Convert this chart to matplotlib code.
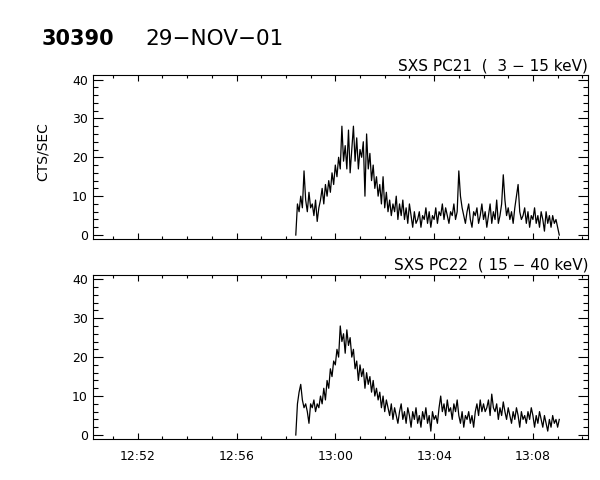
import numpy as np
import matplotlib
matplotlib.use('Agg')
import matplotlib.pyplot as plt
from matplotlib.ticker import MultipleLocator, FuncFormatter

plt.rcParams['font.family'] = ['DejaVu Sans']

# Light curves, 4 s bins starting 12:58:24 (time in minutes after 12:00)
t_start = 58 + 24 / 60.0
bin_min = 4 / 60.0

pc21 = [0,
        8, 6, 10, 7, 16.5, 9, 6, 11, 7,
        8, 5, 9, 3.5, 7, 9, 12, 8, 13, 10,
        14, 11, 16, 13, 18, 15, 20, 17, 28, 19,
        23, 17, 27, 16, 22, 28, 19, 25, 17, 22,
        20, 24, 10, 26, 17, 21, 14, 18, 12, 15,
        10, 13, 8, 15, 7, 11, 6, 9, 5, 8,
        6, 10, 4, 8, 5, 9, 4, 7, 3, 8,
        5, 2, 6, 3, 4, 6, 2, 5, 4, 7,
        3, 6, 2, 5, 4, 7, 3, 6, 5, 8,
        4, 7, 5, 3, 6, 5, 8, 4, 6, 16.5,
        10, 7, 5, 3, 6, 8, 4, 2, 6, 5,
        7, 3, 5, 8, 4, 6, 2, 5, 8, 3,
        6, 4, 9, 3, 5, 8, 15.5, 9, 5, 7,
        4, 6, 3, 7, 10, 13, 6, 4, 5, 7,
        3, 6, 2, 5, 4, 7, 3, 5, 2, 6,
        4, 1, 6, 3, 5, 2, 5, 3, 4, 2,
        0]

pc22 = [0,
        8, 11, 13, 9, 7, 8, 6, 3, 8,
        7, 9, 6, 8, 7, 10, 8, 12, 9, 14,
        12, 17, 15, 19, 18, 22, 20, 28, 24, 26,
        21, 27, 23, 25, 20, 22, 17, 19, 14, 18,
        15, 17, 12, 16, 13, 15, 11, 14, 10, 12,
        9, 11, 7, 10, 6, 9, 7, 5, 8, 4,
        7, 5, 3, 6, 8, 4, 6, 3, 7, 5,
        2, 6, 4, 7, 3, 5, 2, 6, 4, 7,
        3, 5, 1, 6, 4, 5, 3, 7, 10, 6,
        8, 5, 9, 6, 7, 4, 8, 6, 9, 5,
        3, 6, 2, 5, 4, 6, 3, 5, 2, 6,
        8, 5, 9, 6, 8, 6, 7, 9, 5, 10.5,
        7, 6, 8, 4, 7, 5, 8.5, 6, 4, 7,
        5, 3, 6, 4, 7, 5, 2, 6, 4, 5,
        3, 6, 4, 7, 5, 2, 5, 3, 6, 4,
        2, 5, 3, 1, 4, 2, 5, 3, 4, 2,
        4]

panel_titles = ['SXS PC21  (  3 \u2212 15 keV)', 'SXS PC22  ( 15 \u2212 40 keV)']


def hhmm(x, pos):
    h = 12 + int(x // 60)
    m = int(round(x % 60))
    return '%d:%02d' % (h, m)


fig = plt.figure(figsize=(6, 4.8), dpi=100)
fig.text(0.069, 0.919, '30390', fontsize=15, fontweight='semibold', va='center', ha='left')
fig.text(0.243, 0.919, '29\u2212NOV\u221201', fontsize=15.5, va='center', ha='left')

boxes = [[0.155, 0.502, 0.825, 0.342], [0.155, 0.0854, 0.825, 0.3426]]
series = [pc21, pc22]

for k in range(2):
    ax = fig.add_axes(boxes[k])
    y = np.array(series[k])
    t = t_start + bin_min * np.arange(len(y))
    ax.plot(t, y, color='black', lw=0.9)
    ax.set_xlim(50.19, 70.23)
    ax.set_ylim(-1.03, 41.2)
    ax.xaxis.set_major_locator(MultipleLocator(4))
    ax.xaxis.set_minor_locator(MultipleLocator(1))
    ax.yaxis.set_major_locator(MultipleLocator(10))
    ax.yaxis.set_minor_locator(MultipleLocator(2))
    ax.tick_params(which='both', direction='in', top=True, right=True, labelsize=9, width=0.8)
    ax.tick_params(axis='x', which='major', length=4.3, pad=8)
    ax.tick_params(axis='x', which='minor', length=2.5)
    ax.tick_params(axis='y', which='major', length=7.2, pad=3.6)
    ax.tick_params(axis='y', which='minor', length=3.6)
    for s in ax.spines.values():
        s.set_linewidth(0.8)
    if k == 0:
        ax.set_xticklabels([])
        ax.set_ylabel('CTS/SEC', fontsize=10)
        ax.yaxis.set_label_coords(-0.087, 0.53)
    else:
        ax.xaxis.set_major_formatter(FuncFormatter(hhmm))
    ax.text(1.0, 1.01, panel_titles[k], transform=ax.transAxes, ha='right', va='bottom', fontsize=11)

plt.savefig('out.png', dpi=100)
